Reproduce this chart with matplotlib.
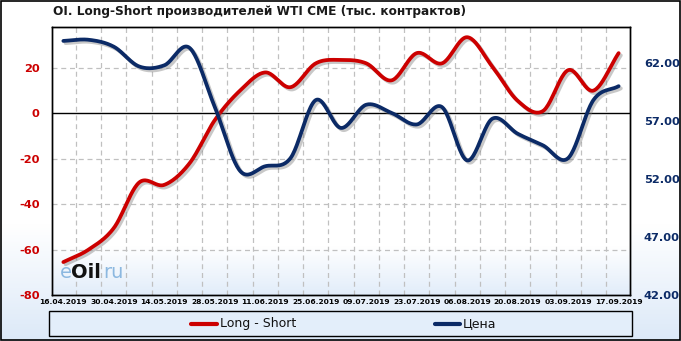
import numpy as np
import matplotlib
matplotlib.use('Agg')
import matplotlib.pyplot as plt
import matplotlib.patheffects as pe
from matplotlib.patches import Rectangle
from matplotlib.lines import Line2D
from matplotlib.colors import LinearSegmentedColormap

dates = ['16.04.2019', '23.04.2019', '30.04.2019', '07.05.2019', '14.05.2019', '21.05.2019',
         '28.05.2019', '04.06.2019', '11.06.2019', '18.06.2019', '25.06.2019', '02.07.2019',
         '09.07.2019', '16.07.2019', '23.07.2019', '30.07.2019', '06.08.2019', '13.08.2019',
         '20.08.2019', '27.08.2019', '03.09.2019', '10.09.2019', '17.09.2019']
long_short = [-65.5, -60.0, -50.5, -30.5, -31.5, -22.0, -3.0, 10.0, 18.0, 11.5, 22.0, 23.5,
              22.0, 14.5, 26.5, 22.0, 33.5, 20.5, 5.5, 1.0, 19.0, 10.0, 26.5]
price = [63.9, 64.0, 63.4, 61.7, 61.8, 63.3, 58.2, 52.7, 53.1, 53.8, 58.8, 56.4,
         58.4, 57.7, 56.7, 58.2, 53.6, 57.2, 55.9, 54.9, 53.8, 58.8, 60.0]
left_ticks = [-80, -60, -40, -20, 0, 20]
right_ticks = [42, 47, 52, 57, 62]

RED = '#CC0000'
NAVY = '#0B2A66'


def smooth(y, n=24):
    """Catmull-Rom curve through the weekly points (display smoothing)."""
    y = np.asarray(y, float)
    x = np.arange(len(y), dtype=float)
    P = np.concatenate([[2 * y[0] - y[1]], y, [2 * y[-1] - y[-2]]])
    xs, ys = [], []
    t = np.linspace(0, 1, n, endpoint=False)
    for i in range(len(y) - 1):
        p0, p1, p2, p3 = P[i], P[i + 1], P[i + 2], P[i + 3]
        seg = 0.5 * ((2 * p1) + (-p0 + p2) * t + (2 * p0 - 5 * p1 + 4 * p2 - p3) * t ** 2
                     + (-p0 + 3 * p1 - 3 * p2 + p3) * t ** 3)
        xs.append(x[i] + t)
        ys.append(seg)
    xs.append([x[-1]])
    ys.append([y[-1]])
    return np.concatenate(xs), np.concatenate(ys)


W, H = 681, 341
fig = plt.figure(figsize=(W / 100, H / 100), dpi=100)

# figure background gradient
bg = fig.add_axes([0, 0, 1, 1], zorder=-10)
bg.axis('off')
rows = np.linspace(0, 1, 200)
vals = np.clip((rows - 0.66) / 0.34, 0, 1)
cmap = LinearSegmentedColormap.from_list('g', ['#ffffff', '#dce9f8'])
bg.imshow(vals[:, None], aspect='auto', cmap=cmap, extent=[0, 1, 0, 1], origin='upper',
          vmin=0, vmax=1)
bg.set_xlim(0, 1)
bg.set_ylim(0, 1)
bg.add_patch(Rectangle((0.001, 0.002), 0.997, 0.995, fill=False, edgecolor='black', lw=1.2,
                       transform=bg.transAxes))

L, R, T, B = 52, 630, 27, 295
ax = fig.add_axes([L / W, 1 - B / H, (R - L) / W, (B - T) / H])
ax.set_facecolor('none')
n = len(long_short)
ax.set_xlim(-0.45, n - 1 + 0.45)
ax.set_ylim(-80, 38)

# plot-area gradient
pv = np.clip((np.linspace(0, 1, 200) - 0.82) / 0.18, 0, 1)
ax.imshow(pv[:, None], aspect='auto', cmap=LinearSegmentedColormap.from_list('p', ['#ffffff', '#e2edfa']),
          extent=[-0.45, n - 1 + 0.45, -80, 38], origin='upper', zorder=0, vmin=0, vmax=1)

for v in [-60, -40, -20, 20]:
    ax.axhline(v, color='#c0c0c0', lw=0.9, ls=(0, (4, 3)), zorder=1)
for k in range(n - 1):
    ax.axvline(k + 0.5, color='#c0c0c0', lw=0.9, ls=(0, (4, 3)), zorder=1)
ax.axhline(0, color='black', lw=1.0, zorder=2)

ax2 = ax.twinx()
ax2.set_ylim(42, 65.1)

shadow = [pe.SimpleLineShadow(offset=(1.6, -1.6), shadow_color='#777777', alpha=0.4),
          pe.Normal()]
xr, yr = smooth(long_short)
ax.plot(xr, yr, color=RED, lw=2.7, solid_capstyle='round', path_effects=shadow, zorder=5)
xb, yb = smooth(price)
ax2.plot(xb, yb, color=NAVY, lw=2.7, solid_capstyle='round', path_effects=shadow, zorder=5)

ax.set_yticks(left_ticks)
ax.set_yticklabels([str(v) for v in left_ticks], color=RED, fontweight='bold', fontsize=8.2)
ax2.set_yticks(right_ticks)
ax2.set_yticklabels(['%.2f' % v for v in right_ticks], color=NAVY, fontweight='bold', fontsize=8.2)
ax.set_xticks(range(0, n, 2))
ax.set_xticklabels(dates[::2], fontsize=5.4, fontweight='bold')
ax.tick_params(axis='both', length=0)
ax.tick_params(axis='y', pad=9)
ax.tick_params(axis='x', pad=3)
ax2.tick_params(axis='y', length=0, pad=10)
for a in (ax, ax2):
    for s in a.spines.values():
        s.set_color('black')
        s.set_linewidth(1.0)

# title
fig.text(53 / W, 1 - 12 / H, 'OI. Long-Short производителей WTI CME (тыс. контрактов)',
         fontsize=8.7, fontweight='bold', color='#1a1a1a', va='center', ha='left')

# watermark
wm_y = 1 - 272 / H
fig.text(60 / W, wm_y, 'e', fontsize=14, color='#8cb8e0', va='center', ha='left')
fig.text(71 / W, wm_y, 'Oil', fontsize=14, color='#111111', va='center', ha='left',
         fontweight='bold')
fig.text(103 / W, wm_y, 'ru', fontsize=14, color='#8cb8e0', va='center', ha='left')

# legend box
lg_l, lg_r, lg_t, lg_b = 49, 632, 311, 336
fig.patches.append(Rectangle((lg_l / W, 1 - lg_b / H), (lg_r - lg_l) / W, (lg_b - lg_t) / H,
                             transform=fig.transFigure, facecolor='#e3eefa', edgecolor='black',
                             lw=1.0, zorder=3))
ly = 1 - 323.5 / H
fig.lines.append(Line2D([191 / W, 217 / W], [ly, ly], transform=fig.transFigure, color=RED,
                        lw=3, solid_capstyle='round', zorder=4))
fig.text(220 / W, ly, 'Long - Short', fontsize=9, va='center', ha='left', color='#111111', zorder=4)
fig.lines.append(Line2D([435 / W, 460 / W], [ly, ly], transform=fig.transFigure, color=NAVY,
                        lw=3, solid_capstyle='round', zorder=4))
fig.text(463 / W, ly, 'Цена', fontsize=9, va='center', ha='left', color='#111111', zorder=4)

fig.savefig('out.png', dpi=100)
